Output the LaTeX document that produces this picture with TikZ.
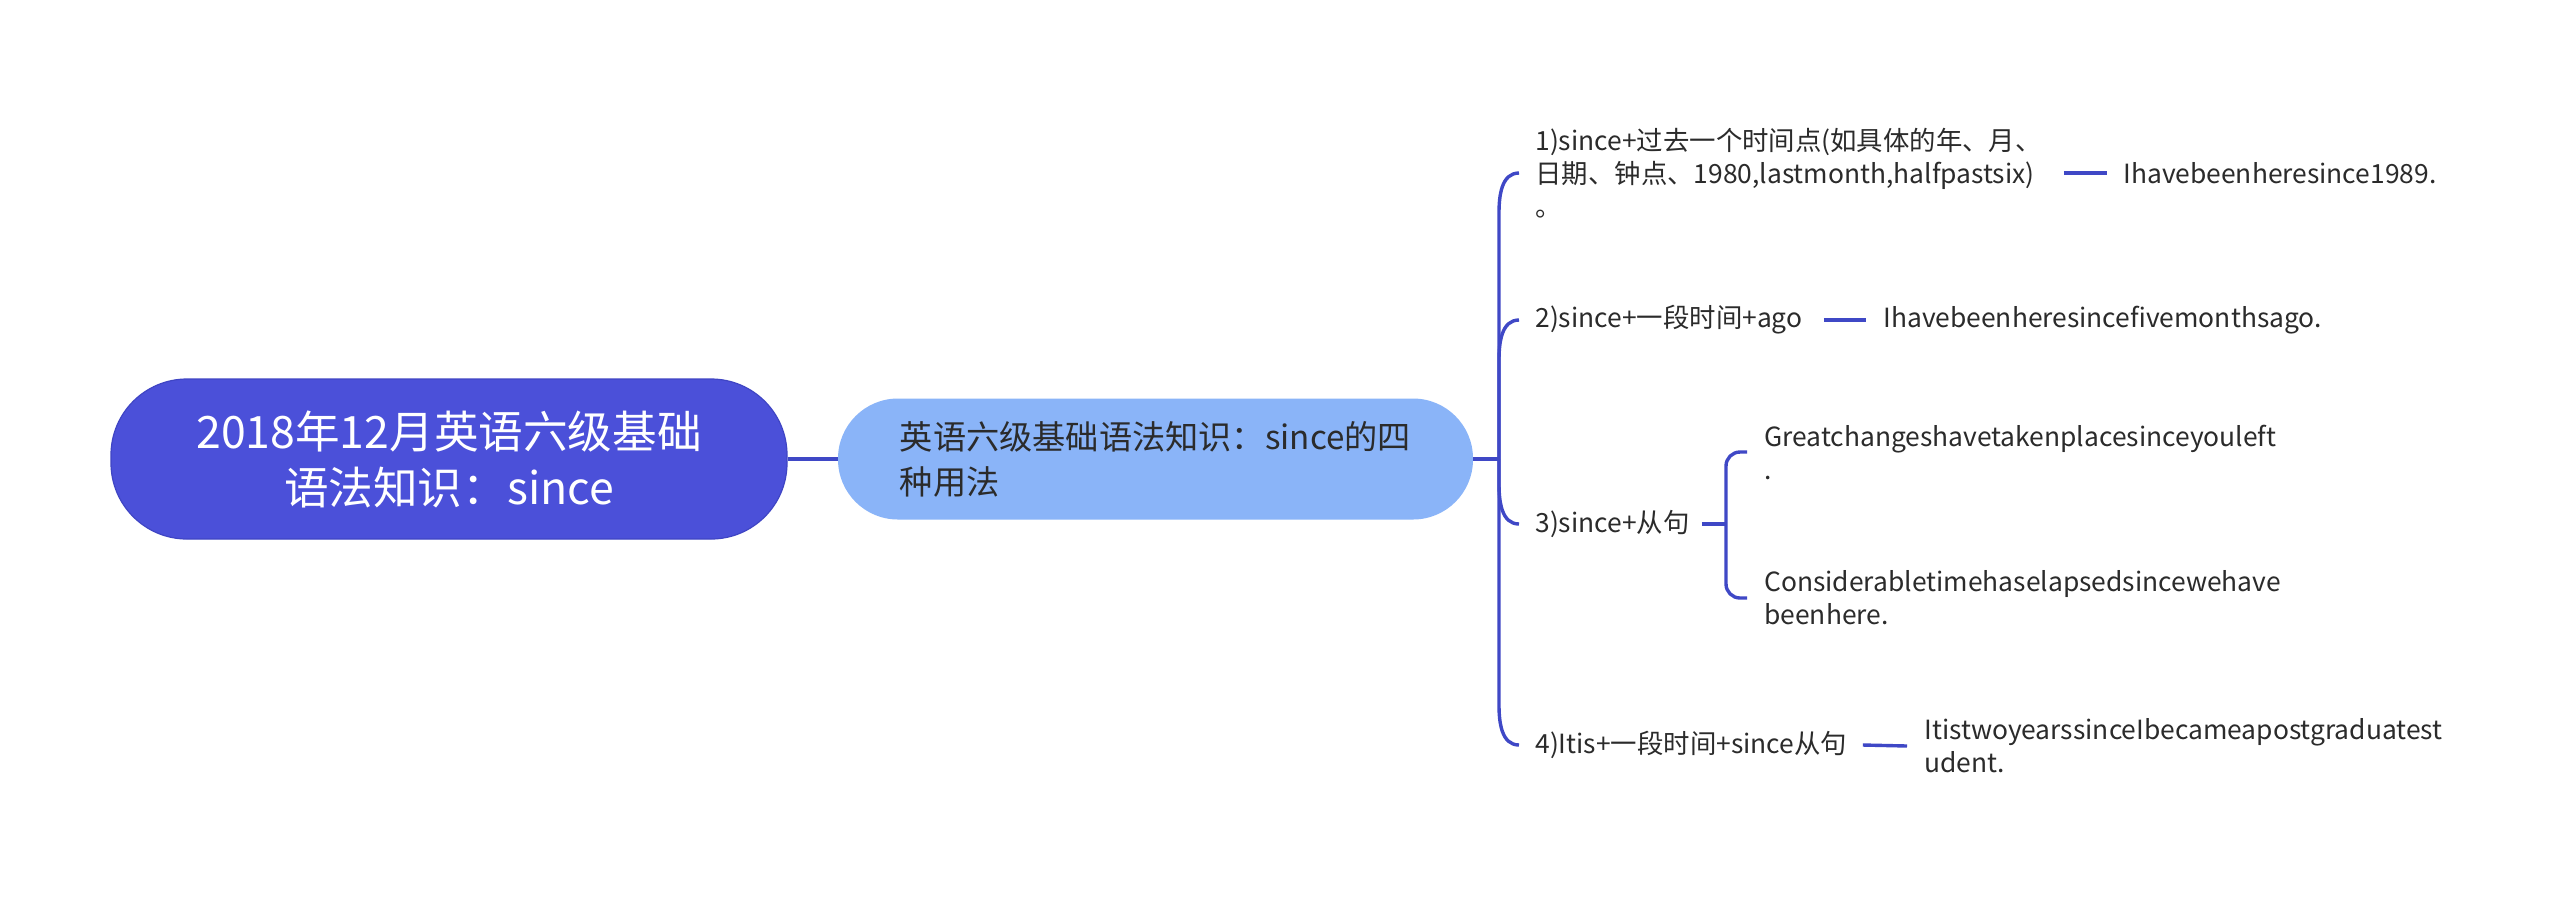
\documentclass[tikz,border=0pt]{standalone}
\usepackage{fontspec}
\setmainfont{Noto Sans CJK SC}
\definecolor{rootc}{HTML}{4B50D9}
\definecolor{rootd}{HTML}{3F45C4}
\definecolor{subc}{HTML}{8AB4F8}
\definecolor{linec}{HTML}{3F48C6}
\definecolor{txt}{HTML}{2B2B2B}
\begin{document}
\begin{tikzpicture}[x=0.5pt,y=-0.5pt,
  conn/.style={draw=linec, line width=1.7pt},
  rootbox/.style={draw=rootd, line width=0.6pt, fill=rootc, text=white, rounded corners=38pt,
    minimum width=338pt, minimum height=80pt, align=center, inner sep=0pt,
    font=\fontsize{22.3}{28}\selectfont},
  subbox/.style={fill=subc, text=txt, rounded corners=30pt,
    minimum width=317.5pt, minimum height=60.5pt, align=left, inner sep=0pt,
    font=\fontsize{16.6}{22.5}\selectfont},
  br/.style={anchor=west, inner sep=0pt, align=left, text=txt,
    font=\fontsize{13.2}{16.5}\selectfont},
  lf/.style={anchor=west, inner sep=0pt, align=left, text=txt,
    font=\fontsize{13.2}{16.5}\selectfont}
]
\fill[white] (0,0) rectangle (2560,902);
\useasboundingbox (0,0) rectangle (2560,902);

\node[rootbox] (root) at (449,459) {2018年12月英语六级基础\\语法知识：since};
\node[subbox] (sub) at (1155.5,459) {英语六级基础语法知识：since的四\\种用法};
\coordinate (tr) at (1499,459);

\node[br, text width=249pt] (b1) at (1535,173) {1)since+过去一个时间点(如具体的年、月、\\日期、钟点、1980,lastmonth,halfpastsix)\\。};
\node[lf] (l1) at (2123,173) {Ihavebeenheresince1989.};

\node[br, text width=137pt] (b2) at (1535,320) {2)since+一段时间+ago};
\node[lf] (l2) at (1883,320) {Ihavebeenheresincefivemonthsago.};

\node[br, text width=77.5pt] (b3) at (1535,524) {3)since+从句};
\coordinate (bk) at (1726,524);
\node[lf] (l3a) at (1764,452) {Greatchangeshavetakenplacesinceyouleft\\.};
\node[lf] (l3b) at (1764,598) {Considerabletimehaselapsedsincewehave\\beenhere.};

\node[br, text width=157.5pt] (b4) at (1535,745) {4)Itis+一段时间+since从句};
\node[lf] (l4) at (1924,746) {ItistwoyearssinceIbecameapostgraduatest\\udent.};

% main connectors
\draw[conn] (root.east) -- (sub.west);
\draw[conn] (sub.east) -- (tr);
\draw[conn] (tr) -- ([yshift=-20pt]tr |- b1.west) to[out=90,in=180] ([xshift=-8pt]b1.west);
\draw[conn] (tr) -- ([yshift=-20pt]tr |- b2.west) to[out=90,in=180] ([xshift=-8pt]b2.west);
\draw[conn] (tr) -- ([yshift=20pt]tr |- b3.west) to[out=-90,in=180] ([xshift=-8pt]b3.west);
\draw[conn] (tr) -- ([yshift=20pt]tr |- b4.west) to[out=-90,in=180] ([xshift=-8pt]b4.west);

% leaf connectors
\draw[conn] ([xshift=15pt]b1.east) -- ([xshift=-8pt]l1.west);
\draw[conn] ([xshift=7pt]b2.east) -- ([xshift=-8.5pt]l2.west);
\draw[conn] ([xshift=5.5pt]b3.east) -- (bk);
\draw[conn, rounded corners=7pt] ([xshift=-8.5pt]l3a.west) -| (bk) |- ([xshift=-8.5pt]l3b.west);
\draw[conn] ([xshift=6pt]b4.east) -- ([xshift=-8.5pt]l4.west);
\end{tikzpicture}
\end{document}
